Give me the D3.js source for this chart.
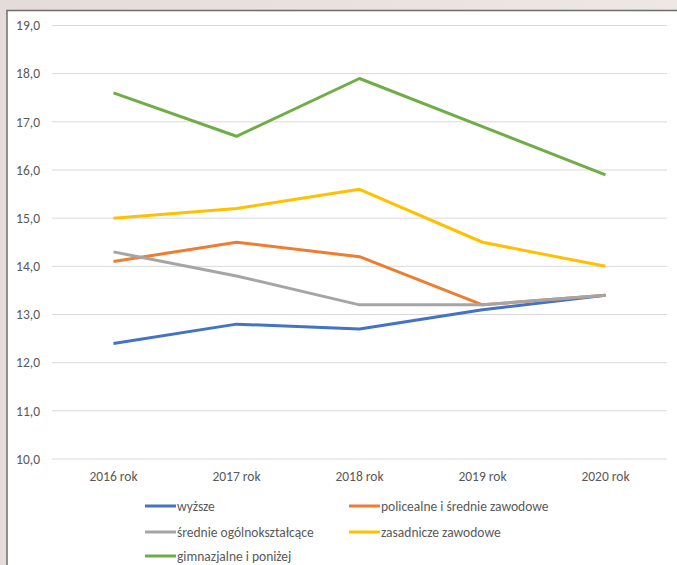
<!DOCTYPE html>
<html><head><meta charset="utf-8">
<script src="https://cdn.jsdelivr.net/npm/d3@7"></script>
<style>
html,body{margin:0;padding:0;}
body{width:677px;height:565px;overflow:hidden;background:linear-gradient(90deg,#e4dcda,#ede7e5);}
svg{display:block;}
</style></head><body>
<svg id="c" width="677" height="565"></svg>
<script>
const categories = ["2016 rok","2017 rok","2018 rok","2019 rok","2020 rok"];
const seriesNames = ["wyższe","policealne i średnie zawodowe","średnie ogólnokształcące","zasadnicze zawodowe","gimnazjalne i poniżej"];
const wyzsze = [12.4,12.8,12.7,13.1,13.4];
const policealne = [14.1,14.5,14.2,13.2,13.4];
const srednieOgolne = [14.3,13.8,13.2,13.2,13.4];
const zasadnicze = [15.0,15.2,15.6,14.5,14.0];
const gimnazjalne = [17.6,16.7,17.9,16.9,15.9];
const yTicks = [10,11,12,13,14,15,16,17,18,19];
const colors = ["#4472C4","#ED7D31","#A5A5A5","#FFC000","#70AD47"];
const series = [wyzsze,policealne,srednieOgolne,zasadnicze,gimnazjalne];

const svg = d3.select("#c");
const font = "Calibri, Carlito, Lato, 'Open Sans', sans-serif";
const fs = "13.5px";
svg.append("rect").attr("x",7).attr("y",10.5).attr("width",700).attr("height",600)
  .attr("fill","#fff").attr("stroke","#6e6e6e").attr("stroke-width",1.5);

const x = d3.scaleBand().domain(categories).range([52,667]);
const y = d3.scaleLinear().domain([10,19]).range([459,25.5]);

const g = svg.append("g");
g.selectAll("line.grid").data(yTicks).join("line")
  .attr("x1",52).attr("x2",667).attr("y1",d=>y(d)).attr("y2",d=>y(d))
  .attr("stroke","#d9d9d9").attr("stroke-width",1);

const yAxis = d3.axisLeft(y).tickValues(yTicks).tickSize(0).tickPadding(0)
  .tickFormat(d=>d3.format(".1f")(d).replace(".",","));
const ya = svg.append("g").attr("transform","translate(40,0)").call(yAxis);
ya.select(".domain").remove();
ya.selectAll("text").attr("fill","#595959").style("font-family",font).style("font-size",fs);

const xAxis = d3.axisBottom(x).tickSize(0).tickPadding(0);
const xa = svg.append("g").attr("transform","translate(0,471)").call(xAxis);
xa.select(".domain").remove();
xa.selectAll("text").attr("fill","#595959").style("font-family",font).style("font-size",fs);

const line = d3.line().x((d,i)=>x(categories[i])+x.bandwidth()/2).y(d=>y(d));
series.forEach((s,i)=>{
  svg.append("path").datum(s).attr("d",line).attr("fill","none")
    .attr("stroke",colors[i]).attr("stroke-width",3).attr("stroke-linejoin","round");
});

const legendPos = [[145,506],[349,506],[145,532],[349,532],[145,556]];
seriesNames.forEach((n,i)=>{
  const [lx,ly] = legendPos[i];
  svg.append("line").attr("x1",lx).attr("x2",lx+31).attr("y1",ly).attr("y2",ly)
    .attr("stroke",colors[i]).attr("stroke-width",3);
  svg.append("text").attr("x",lx+32).attr("y",ly).attr("dy","0.35em")
    .attr("fill","#595959").style("font-family",font).style("font-size",fs).text(n);
});
</script>
</body></html>
